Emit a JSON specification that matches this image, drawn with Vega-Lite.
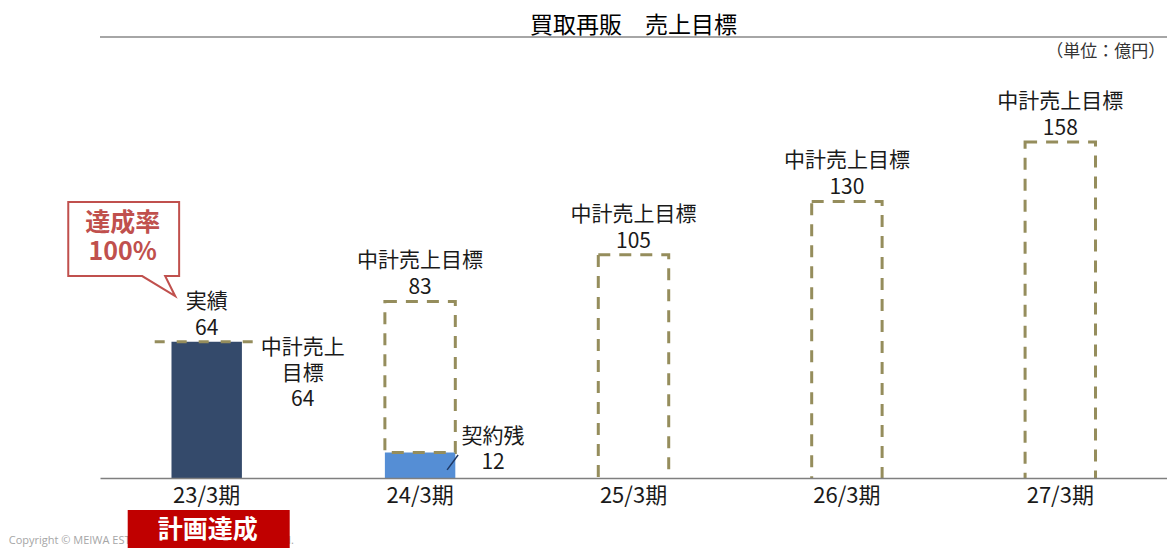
{
  "$schema": "https://vega.github.io/schema/vega-lite/v6.json",
  "autosize": {"type": "none"},
  "padding": {"left": 100, "top": 37, "right": 0, "bottom": 70},
  "width": 1067,
  "height": 441,
  "background": "white",
  "title": {"text": "買取再販　売上目標", "fontSize": 23, "fontWeight": "normal", "color": "#000000", "anchor": "middle", "offset": -2, "font": "Noto Sans CJK JP"},
  "config": {
    "view": {"stroke": null},
    "font": "Noto Sans CJK JP",
    "text": {"font": "Noto Sans CJK JP"}
  },
  "data": {
    "values": [
      {"period": "23/3期", "target": 64, "actual": 64, "topLabel": "実績\n64", "sideLabel": "中計売上\n目標\n64"},
      {"period": "24/3期", "target": 83, "backlog": 12, "topLabel": "中計売上目標\n83", "backlogLabel": "契約残\n12"},
      {"period": "25/3期", "target": 105, "topLabel": "中計売上目標\n105"},
      {"period": "26/3期", "target": 130, "topLabel": "中計売上目標\n130"},
      {"period": "27/3期", "target": 158, "topLabel": "中計売上目標\n158"}
    ]
  },
  "encoding": {
    "x": {
      "field": "period", "type": "nominal", "sort": null,
      "scale": {"type": "band", "paddingInner": 0, "paddingOuter": 0},
      "axis": {"title": null, "ticks": false, "labelFontSize": 22, "labelColor": "#1a1a1a", "labelPadding": 7, "domainColor": "#7f7f7f", "domainWidth": 1.5, "labelAngle": 0, "zindex": 1, "grid": false}
    }
  },
  "layer": [
    {
      "mark": {"type": "rule", "color": "#a6a6a6", "strokeWidth": 2},
      "encoding": {"x": null, "y": {"datum": 207.3, "type": "quantitative", "scale": {"domain": [0, 207.3], "nice": false, "zero": false}, "axis": null}}
    },
    {
      "transform": [{"filter": "isValid(datum.actual)"}],
      "mark": {"type": "bar", "width": {"band": 0.33}, "color": "#344a6b"},
      "encoding": {"y": {"field": "actual", "type": "quantitative", "axis": null}}
    },
    {
      "transform": [{"filter": "isValid(datum.backlog)"}],
      "mark": {"type": "bar", "width": {"band": 0.33}, "color": "#558ed5"},
      "encoding": {"y": {"field": "backlog", "type": "quantitative", "axis": null}}
    },
    {
      "transform": [{"filter": "isValid(datum.backlog)"}],
      "mark": {"type": "bar", "width": {"band": 0.33}, "fill": "transparent", "stroke": "#958d5c", "strokeWidth": 3, "strokeDash": [12, 9]},
      "encoding": {"y": {"field": "target", "type": "quantitative", "axis": null}, "y2": {"field": "backlog"}}
    },
    {
      "transform": [{"filter": "!isValid(datum.backlog) && !isValid(datum.actual)"}],
      "mark": {"type": "bar", "width": {"band": 0.33}, "fill": "transparent", "stroke": "#958d5c", "strokeWidth": 3, "strokeDash": [12, 9], "clip": true},
      "encoding": {"y": {"field": "target", "type": "quantitative", "axis": null}, "y2": {"datum": -3}}
    },
    {
      "transform": [{"filter": "isValid(datum.actual)"}],
      "mark": {"type": "rule", "stroke": "#958d5c", "strokeWidth": 3, "strokeDash": [10, 12], "xOffset": -52, "x2Offset": 51},
      "encoding": {"x2": {"field": "period"}, "y": {"field": "target", "type": "quantitative", "axis": null}}
    },
    {
      "mark": {"type": "text", "lineBreak": "\n", "baseline": "bottom", "dy": -30, "fontSize": 21, "lineHeight": 27, "color": "#1a1a1a"},
      "encoding": {"y": {"field": "target", "type": "quantitative", "axis": null}, "text": {"field": "topLabel"}}
    },
    {
      "transform": [{"filter": "isValid(datum.sideLabel)"}],
      "mark": {"type": "text", "lineBreak": "\n", "baseline": "top", "dy": -5, "dx": 96, "fontSize": 21, "lineHeight": 26, "color": "#1a1a1a"},
      "encoding": {"y": {"field": "target", "type": "quantitative", "axis": null}, "text": {"field": "sideLabel"}}
    },
    {
      "transform": [{"filter": "isValid(datum.backlogLabel)"}],
      "mark": {"type": "text", "lineBreak": "\n", "baseline": "top", "dy": -26, "dx": 73, "fontSize": 21, "lineHeight": 26, "color": "#1a1a1a"},
      "encoding": {"y": {"field": "backlog", "type": "quantitative", "axis": null}, "text": {"field": "backlogLabel"}}
    },
    {
      "data": {"values": [{}]},
      "mark": {"type": "rule", "color": "#1f3864", "strokeWidth": 1.5, "xOffset": 27, "x2Offset": 38},
      "encoding": {"x": {"datum": "24/3期"}, "x2": {"datum": "24/3期"}, "y": {"datum": 3.8, "type": "quantitative", "axis": null}, "y2": {"datum": 10.8}}
    },
    {
      "data": {"values": [{}]},
      "mark": {"type": "point", "shape": "M-0.99,-0.82 L0.99,-0.82 L0.99,0.5 L0.74,0.5 L0.92,0.86 L0.33,0.5 L-0.99,0.5 Z", "size": 12544, "filled": true, "fill": "#ffffff", "stroke": "#c0504d", "strokeWidth": 2, "opacity": 1, "xOffset": -83},
      "encoding": {"x": {"datum": "23/3期"}, "y": {"datum": 108.1, "type": "quantitative", "axis": null}}
    },
    {
      "data": {"values": [{}]},
      "mark": {"type": "text", "text": "達成率\n100%", "lineBreak": "\n", "baseline": "middle", "dx": -84, "fontSize": 25, "fontWeight": "bold", "lineHeight": 29, "color": "#c0504d"},
      "encoding": {"x": {"datum": "23/3期"}, "y": {"datum": 119.9, "type": "quantitative", "axis": null}}
    },
    {
      "data": {"values": [{}]},
      "mark": {"type": "text", "text": "Copyright © MEIWA ESTATE Co.,Ltd. All Rights Reserved.", "align": "left", "baseline": "middle", "dx": -198, "fontSize": 11, "color": "#a6a6a6", "font": "Open Sans"},
      "encoding": {"x": {"datum": "23/3期"}, "y": {"datum": -29.6, "type": "quantitative", "axis": null}}
    },
    {
      "data": {"values": [{}]},
      "mark": {"type": "point", "shape": "M-1,-0.247 L1,-0.247 L1,0.247 L-1,0.247 Z", "size": 26244, "filled": true, "fill": "#c00000", "opacity": 1, "strokeWidth": 0, "xOffset": 2},
      "encoding": {"x": {"datum": "23/3期"}, "y": {"datum": -24.4, "type": "quantitative", "axis": null}}
    },
    {
      "data": {"values": [{}]},
      "mark": {"type": "text", "text": "計画達成", "baseline": "middle", "dx": 1, "fontSize": 25, "fontWeight": "bold", "color": "#ffffff"},
      "encoding": {"x": {"datum": "23/3期"}, "y": {"datum": -24.4, "type": "quantitative", "axis": null}}
    },
    {
      "data": {"values": [{}]},
      "mark": {"type": "text", "text": "（単位：億円）", "align": "right", "baseline": "middle", "dx": 105, "fontSize": 17, "color": "#333333"},
      "encoding": {"x": {"datum": "27/3期"}, "y": {"datum": 200.3, "type": "quantitative", "axis": null}}
    }
  ]
}
